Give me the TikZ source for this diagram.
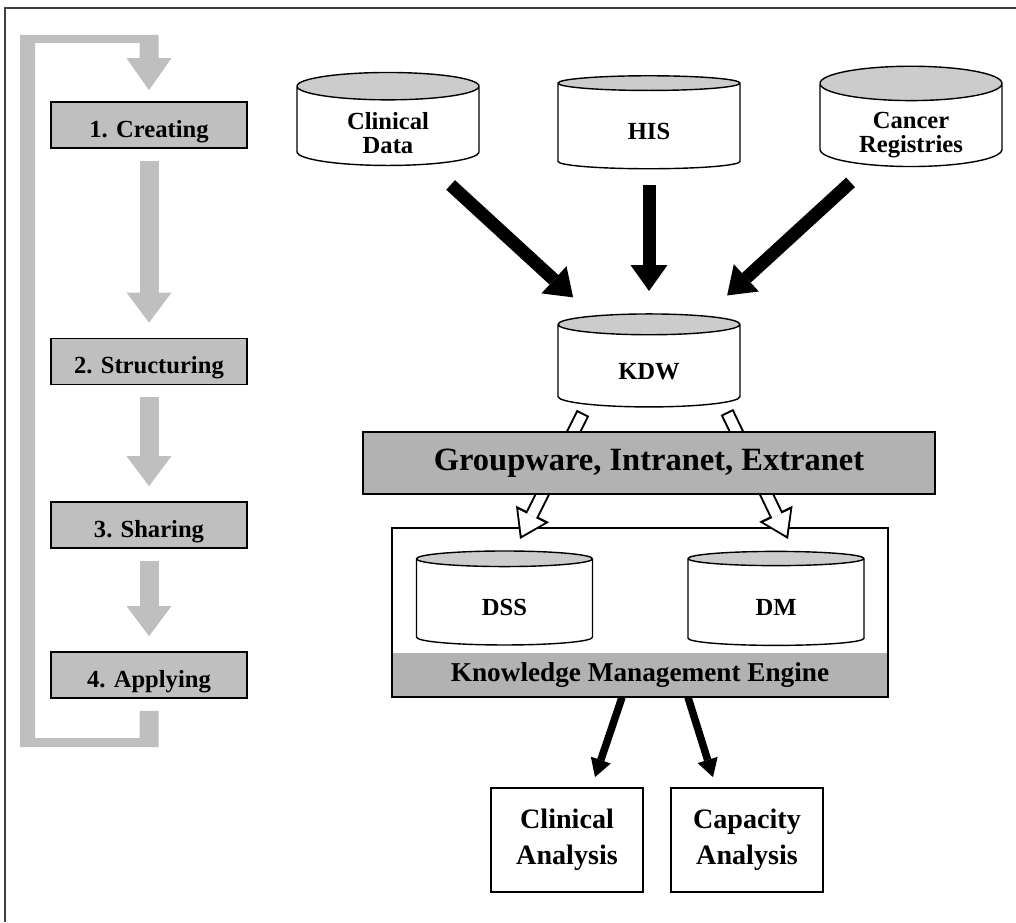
\documentclass[tikz,border=0pt]{standalone}
\usepackage{fontspec}
\setmainfont{Liberation Serif}
\usetikzlibrary{shapes.geometric,arrows.meta,calc}

\definecolor{stepgray}{gray}{0.75}
\definecolor{lidgray}{gray}{0.80}
\definecolor{bargray}{gray}{0.70}

% text set a little low in the front face of a cylinder
\newcommand{\dbtext}[1]{\raisebox{0pt}[\dimexpr\height+0.18cm\relax][\dimexpr\depth-0.18cm\relax]{\begin{tabular}{@{}c@{}}#1\end{tabular}}}

\begin{document}
\begin{tikzpicture}[
  x=0.02cm, y=-0.02cm,
  stepbox/.style={draw, line width=1pt, fill=stepgray, minimum width=3.92cm, minimum height=0.92cm, text height=14pt, text depth=0pt, font=\fontsize{14}{14}\selectfont\bfseries},
  db/.style={cylinder, shape border rotate=90, draw, line width=0.8pt, aspect=0.32, inner sep=1pt, cylinder uses custom fill, cylinder end fill=lidgray, cylinder body fill=white, minimum width=3.64cm, minimum height=1.86cm, font=\fontsize{14}{13.5}\selectfont\bfseries},
  resultbox/.style={draw, line width=1pt, minimum width=3.04cm, minimum height=2.08cm, align=center, font=\fontsize{16}{20.5}\selectfont\bfseries},
  grayarrow/.style={draw=stepgray, line width=0.38cm, -{Triangle[width=0.9cm, length=0.6cm, line width=0pt]}, shorten <=0.24cm, shorten >=0.3cm},
  bigarrow/.style={line width=0.26cm, -{Triangle[width=0.74cm, length=0.52cm, line width=0pt]}},
  smallarrow/.style={line width=0.15cm, -{Triangle[width=0.42cm, length=0.36cm, line width=0pt]}},
  hollowout/.style={line width=0.28cm, -{Triangle[width=0.74cm, length=0.56cm, line width=0pt]}},
  hollowin/.style={draw=white, line width=0.2cm, -{Triangle[width=0.59cm, length=0.44cm, line width=0pt]}, shorten <=0.04cm, shorten >=0.073cm}
]
  \useasboundingbox (0,0) rectangle (1016,922);
  % frame
  \draw[line width=1.2pt, black!75] (5,922) -- (5,8) -- (1016,8);

  % Steps
  \node[stepbox] (s1) at (149,125) {1. Creating};
  \node[stepbox] (s2) at (149,361.5) {2. Structuring};
  \node[stepbox] (s3) at (149,525) {3. Sharing};
  \node[stepbox] (s4) at (149,675) {4. Applying};

  \foreach \a/\b in {s1/s2,s2/s3,s3/s4}
    \draw[grayarrow] (\a) -- (\b);

  % loop back from step 4 to step 1
  \coordinate (loopbl) at (20,747);
  \coordinate (looptl) at (20,35);
  \coordinate (loopti) at (35,43);
  \coordinate (loopbi) at (35,738);
  \fill[stepgray] ([xshift=-0.19cm,yshift=-0.24cm]s4.south)
    -- ([xshift=0.19cm,yshift=-0.24cm]s4.south) |- (loopbl) -- (looptl)
    -| ([xshift=0.19cm,yshift=0.86cm]s1.north) -- ++(13,0)
    -- ([yshift=0.22cm]s1.north) -- ++(-22.5,-32) -- ++(13,0)
    |- (loopti) -- (loopbi) -| ([xshift=-0.19cm,yshift=-0.24cm]s4.south) -- cycle;

  % Sources
  \node[db] (cd) at (388,127.5) {\dbtext{Clinical\\Data}};
  \node[db] (his) at (649,127) {\dbtext{HIS}};
  \node[db] (cr) at (911,127) {\dbtext{Cancer\\Registries}};

  % Warehouse
  \node[db] (kdw) at (649,367) {\dbtext{KDW}};

  % Engine
  \node[fill=bargray, minimum width=9.92cm, minimum height=0.88cm, font=\fontsize{15.5}{15.5}\selectfont\bfseries] (kmeband) at (640,675) {Knowledge Management Engine};
  \node[draw, line width=1pt, minimum width=9.92cm, minimum height=3.38cm] (kme) at (640,612.5) {};
  \node[db, minimum width=3.52cm, minimum height=1.88cm] (dss) at (504.5,603) {\dbtext{DSS}};
  \node[db, minimum width=3.52cm, minimum height=1.88cm] (dm) at (776,603) {\dbtext{DM}};

  % Results
  \node[resultbox] (ca) at (567,840) {Clinical\\Analysis};
  \node[resultbox] (cap) at (747,840) {Capacity\\Analysis};

  % Arrows
  \draw[bigarrow, shorten <=1.7cm, shorten >=2.06cm] (cd.center) -- (kdw.center);
  \draw[bigarrow, shorten <=1.16cm, shorten >=1.52cm] (his.center) -- (kdw.center);
  \draw[bigarrow, shorten <=1.64cm, shorten >=2.12cm] (cr.center) -- (kdw.center);

  \foreach \s in {hollowout,hollowin} {
    \draw[\s] ($(kdw.center)+(-66,46)$) -- ($(dss.center)+(15.5,-64)$);
    \draw[\s] ($(kdw.center)+(78,45)$) -- ($(dm.center)+(12,-64)$);
  }

  \node[draw, line width=1pt, fill=bargray, minimum width=11.44cm, minimum height=1.24cm, font=\fontsize{18.5}{18.5}\selectfont\bfseries] (gw) at (649,463) {Groupware, Intranet, Extranet};

  \draw[smallarrow] ([xshift=-0.36cm]kmeband.south) -- ([xshift=0.56cm,yshift=0.2cm]ca.north);
  \draw[smallarrow] ([xshift=0.96cm]kmeband.south) -- ([xshift=-0.68cm,yshift=0.2cm]cap.north);
\end{tikzpicture}
\end{document}
